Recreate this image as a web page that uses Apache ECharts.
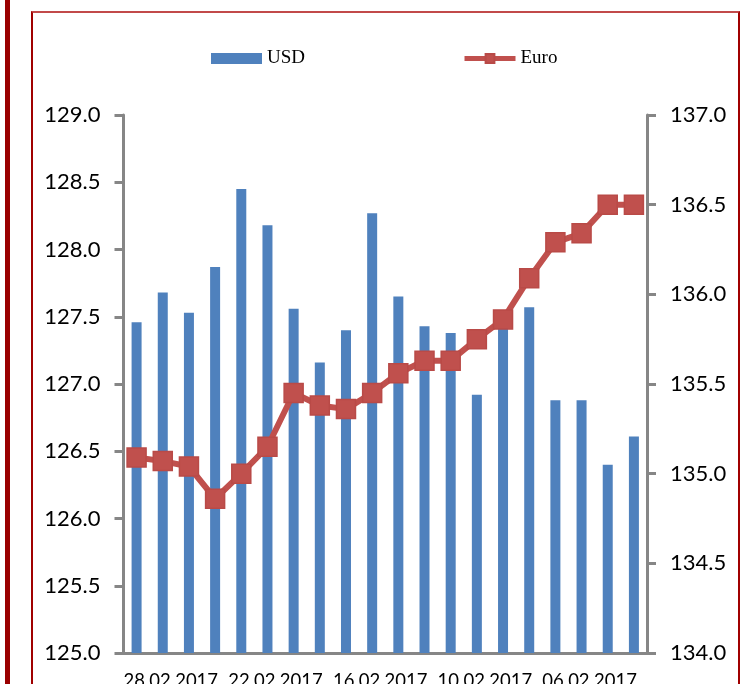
<!DOCTYPE html>
<html>
<head>
<meta charset="utf-8">
<script src="https://cdn.jsdelivr.net/npm/echarts@6/dist/echarts.min.js"></script>
<style>
  html, body { margin: 0; padding: 0; background: #fff; overflow: hidden; }
  .wrap { position: relative; width: 753px; height: 684px; }
  .sidebar { position: absolute; left: 5px; top: 0; width: 5px; height: 684px; background: #9a0000; }
  .frame { position: absolute; left: 31px; top: 11px; width: 705px; height: 700px;
           border: 2px solid #a00000; border-top-color: #c24a4a; }
  #main { position: absolute; left: 0; top: 0; width: 753px; height: 684px; }
</style>
</head>
<body>
<div class="wrap">
  <div class="sidebar"></div>
  <div class="frame"></div>
  <div id="main"></div>
</div>
<script>
// даты по оси X (от новых к старым)
var categories = ['28.02.2017','27.02.2017','24.02.2017','23.02.2017','22.02.2017',
                  '21.02.2017','20.02.2017','17.02.2017','16.02.2017','15.02.2017',
                  '14.02.2017','13.02.2017','10.02.2017','09.02.2017','08.02.2017',
                  '07.02.2017','06.02.2017','03.02.2017','02.02.2017','01.02.2017'];
var usd  = [127.46, 127.68, 127.53, 127.87, 128.45, 128.18, 127.56, 127.16, 127.40, 128.27,
            127.65, 127.43, 127.38, 126.92, 127.42, 127.57, 126.88, 126.88, 126.40, 126.61];
var euro = [135.09, 135.07, 135.04, 134.86, 135.00, 135.15, 135.45, 135.38, 135.36, 135.45,
            135.56, 135.63, 135.63, 135.75, 135.86, 136.09, 136.29, 136.34, 136.50, 136.50];
var leftTicks  = { min: 125, max: 129, step: 0.5 };
var rightTicks = { min: 134, max: 137, step: 0.5 };

var axisGray = '#868686';
var euroRed = '#c0504d';
var labelFont = { color: '#000', fontFamily: 'Lato', fontSize: 22 };

var myChart = echarts.init(document.getElementById('main'));
var option = {
    animation: false,
    legend: {
        left: 206,
        top: 44,
        itemWidth: 51,
        itemHeight: 11,
        itemGap: 157,
        textStyle: { fontFamily: 'Liberation Serif', fontSize: 19, color: '#000' },
        data: [
            { name: 'USD', icon: 'rect' },
            { name: 'Euro', lineStyle: { width: 5, color: euroRed } }
        ]
    },
    grid: { left: 123.5, right: 106, top: 115, bottom: 31, outerBoundsMode: 'none' },
    xAxis: [
        {
            type: 'category',
            data: categories,
            boundaryGap: true,
            axisLine: { lineStyle: { color: axisGray, width: 3 } },
            axisTick: { length: 7, lineStyle: { color: axisGray, width: 3 } },
            axisLabel: { show: false }
        },
        {
            // подписи дат выровнены по левой границе категории
            type: 'value',
            position: 'bottom',
            min: 0,
            max: categories.length,
            interval: 4,
            axisLine: { show: false },
            axisTick: { show: false },
            splitLine: { show: false },
            axisLabel: {
                align: 'left',
                margin: 19,
                fontFamily: 'Lato', fontSize: 18.5, color: '#000',
                showMaxLabel: false,
                formatter: function (v) { return v < categories.length ? categories[v] : ''; }
            }
        }
    ],
    yAxis: [
        {
            type: 'value',
            min: leftTicks.min, max: leftTicks.max, interval: leftTicks.step,
            axisLine: { show: true, lineStyle: { color: axisGray, width: 3 } },
            axisTick: { show: true, length: 9, lineStyle: { color: axisGray, width: 3 } },
            splitLine: { show: false },
            axisLabel: Object.assign({ margin: 23, formatter: function (v) { return v.toFixed(1); } }, labelFont)
        },
        {
            type: 'value',
            position: 'right',
            min: rightTicks.min, max: rightTicks.max, interval: rightTicks.step,
            axisLine: { show: true, lineStyle: { color: axisGray, width: 3 } },
            axisTick: { show: true, length: 9, lineStyle: { color: axisGray, width: 3 } },
            splitLine: { show: false },
            axisLabel: Object.assign({ margin: 23, formatter: function (v) { return v.toFixed(1); } }, labelFont)
        }
    ],
    series: [
        {
            name: 'USD',
            type: 'bar',
            xAxisIndex: 0,
            yAxisIndex: 0,
            barWidth: 10,
            itemStyle: { color: '#4f81bd' },
            data: usd
        },
        {
            name: 'Euro',
            type: 'line',
            xAxisIndex: 0,
            yAxisIndex: 1,
            symbol: 'rect',
            symbolSize: 19,
            showSymbol: true,
            showAllSymbol: true,
            lineStyle: { color: euroRed, width: 6 },
            itemStyle: { color: euroRed, borderColor: '#b94a47', borderWidth: 1.5 },
            data: euro
        }
    ]
};
myChart.setOption(option, true);
</script>
</body>
</html>
